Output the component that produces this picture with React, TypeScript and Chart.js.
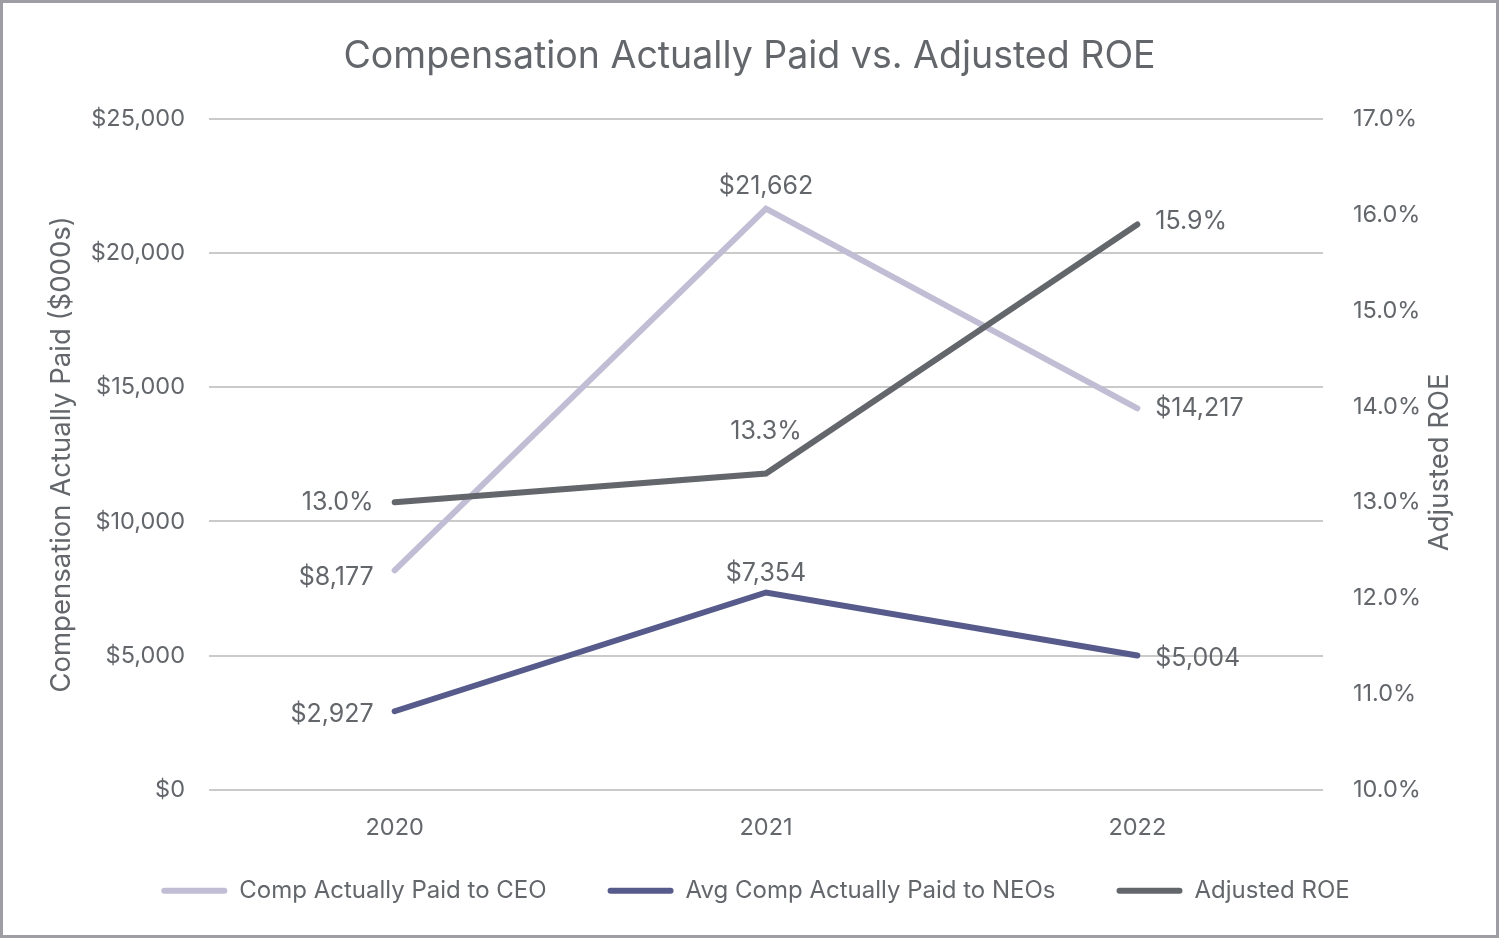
import React, { useEffect, useRef } from "react";
import { Chart, registerables } from "chart.js";

Chart.register(...registerables);

const categories = ["2020", "2021", "2022"];
const ceoComp = [8177, 21662, 14217];
const neoComp = [2927, 7354, 5004];
const adjustedRoe = [13.0, 13.3, 15.9];

const compMin = 0;
const compMax = 25000;
const compStep = 5000;
const roeMin = 10;
const roeMax = 17;
const roeStep = 1;

const FONT = "Inter, 'Noto Sans', sans-serif";
const TEXT = "#63666b";
const CEO_COLOR = "#c1bdd5";
const NEO_COLOR = "#565b8b";
const ROE_COLOR = "#63676c";
const LEGEND_PAD = 61;

const fmtMoney = (v: number) => "$" + Math.round(v).toLocaleString("en-US");
const fmtPct = (v: number) => v.toFixed(1) + "%";

const labelPlugin = {
  id: "pointValueLabels",
  afterLayout(chart: any) {
    const lg = chart.legend;
    if (lg) {
      const h = lg.bottom - lg.top;
      lg.top = chart.chartArea.bottom + 101 - LEGEND_PAD - 12;
      lg.bottom = lg.top + h;
      lg.left += 6;
      lg.right += 6;
    }
  },
  afterDatasetsDraw(chart: any) {
    const ctx = chart.ctx;
    ctx.save();
    ctx.font = `25px ${FONT}`;
    ctx.fillStyle = TEXT;
    chart.data.datasets.forEach((ds: any, i: number) => {
      const meta = chart.getDatasetMeta(i);
      const cfg = ds.valueLabels;
      meta.data.forEach((pt: any, j: number) => {
        const text = cfg.format(ds.data[j]);
        const pos = cfg.pos[j];
        if (pos === "left") {
          ctx.textAlign = "right";
          ctx.textBaseline = "middle";
          ctx.fillText(text, pt.x - 21, pt.y + cfg.dy);
        } else if (pos === "right") {
          ctx.textAlign = "left";
          ctx.textBaseline = "middle";
          ctx.fillText(text, pt.x + 18, pt.y + cfg.dyRight);
        } else {
          ctx.textAlign = "center";
          ctx.textBaseline = "middle";
          ctx.fillText(text, pt.x, pt.y - cfg.topGap);
        }
      });
    });
    ctx.restore();
  },
  afterDraw(chart: any) {
    const ctx = chart.ctx;
    const area = chart.chartArea;
    ctx.save();
    ctx.font = `27.5px ${FONT}`;
    ctx.fillStyle = TEXT;
    ctx.textAlign = "center";
    ctx.textBaseline = "middle";
    ctx.translate(1437, (area.top + area.bottom) / 2 + 8);
    ctx.rotate(-Math.PI / 2);
    ctx.fillText("Adjusted ROE", 0, 0);
    ctx.restore();
  },
};

export default function App() {
  const canvasRef = useRef<HTMLCanvasElement | null>(null);

  useEffect(() => {
    if (!canvasRef.current) return;
    const chart = new Chart(canvasRef.current, {
      type: "line",
      data: {
        labels: categories,
        datasets: [
          {
            label: "Comp Actually Paid to CEO",
            data: ceoComp,
            yAxisID: "y",
            borderColor: CEO_COLOR,
            backgroundColor: CEO_COLOR,
            borderWidth: 6,
            borderCapStyle: "round",
            pointRadius: 0,
            tension: 0,
            order: 3,
            valueLabels: { format: fmtMoney, pos: ["left", "top", "right"], dy: 7, dyRight: 0, topGap: 22 },
          } as any,
          {
            label: "Avg Comp Actually Paid to NEOs",
            data: neoComp,
            yAxisID: "y",
            borderColor: NEO_COLOR,
            backgroundColor: NEO_COLOR,
            borderWidth: 6,
            borderCapStyle: "round",
            pointRadius: 0,
            tension: 0,
            order: 2,
            valueLabels: { format: fmtMoney, pos: ["left", "top", "right"], dy: 3, dyRight: 3, topGap: 19 },
          } as any,
          {
            label: "Adjusted ROE",
            data: adjustedRoe,
            yAxisID: "y1",
            borderColor: ROE_COLOR,
            backgroundColor: ROE_COLOR,
            borderWidth: 6,
            borderCapStyle: "round",
            pointRadius: 0,
            tension: 0,
            order: 1,
            valueLabels: { format: fmtPct, pos: ["left", "top", "right"], dy: 0, dyRight: -3, topGap: 42 },
          } as any,
        ],
      },
      options: {
        animation: false,
        responsive: true,
        maintainAspectRatio: false,
        layout: { padding: { top: 0, left: 0, right: 0, bottom: -23 } },
        plugins: {
          title: {
            display: true,
            text: "Compensation Actually Paid vs. Adjusted ROE",
            color: TEXT,
            font: { family: FONT, size: 37.5, weight: "normal", lineHeight: 1.2 },
            padding: { top: 31, bottom: 40 },
          },
          legend: {
            display: true,
            position: "bottom",
            maxHeight: 92,
            labels: {
              color: TEXT,
              font: { family: FONT, size: 24 },
              boxWidth: 66,
              boxHeight: 6,
              padding: LEGEND_PAD,
              useBorderRadius: true,
              borderRadius: 3,
              generateLabels: (ch: any) =>
                ch.data.datasets.map((ds: any, i: number) => ({
                  text: ds.label,
                  fillStyle: ds.borderColor,
                  strokeStyle: ds.borderColor,
                  lineWidth: 0,
                  fontColor: TEXT,
                  hidden: false,
                  datasetIndex: i,
                  borderRadius: 3,
                })),
            },
          },
          tooltip: { enabled: false },
        },
        scales: {
          x: {
            offset: true,
            grid: { display: false, drawTicks: false },
            border: { display: false },
            ticks: { color: TEXT, font: { family: FONT, size: 23.5 }, padding: 24 },
          },
          y: {
            position: "left",
            min: compMin,
            max: compMax,
            grid: { color: "#cacaca", lineWidth: 2, drawTicks: false },
            border: { display: false },
            ticks: {
              stepSize: compStep,
              color: TEXT,
              font: { family: FONT, size: 23.5 },
              padding: 24,
              callback: (v: any) => fmtMoney(Number(v)),
            },
            title: {
              display: true,
              text: "Compensation Actually Paid ($000s)",
              color: TEXT,
              font: { family: FONT, size: 27.5, lineHeight: 1.2 },
              padding: { top: 42, bottom: 0 },
            },
            afterFit: (scale: any) => {
              scale.width = 206;
            },
          },
          y1: {
            position: "right",
            min: roeMin,
            max: roeMax,
            grid: { display: false, drawTicks: false },
            border: { display: false },
            ticks: {
              stepSize: roeStep,
              color: TEXT,
              font: { family: FONT, size: 23.5 },
              padding: 30,
              callback: (v: any) => fmtPct(Number(v)),
            },
            afterFit: (scale: any) => {
              scale.width = 173;
            },
          },
        },
      } as any,
      plugins: [labelPlugin],
    });
    return () => chart.destroy();
  }, []);

  return (
    <div
      style={{
        position: "fixed",
        top: 0,
        left: 0,
        width: 1499,
        height: 938,
        boxSizing: "border-box",
        border: "3px solid #9d9da3",
        background: "#ffffff",
      }}
    >
      <div style={{ position: "relative", width: 1493, height: 932 }}>
        <canvas ref={canvasRef} />
      </div>
    </div>
  );
}
